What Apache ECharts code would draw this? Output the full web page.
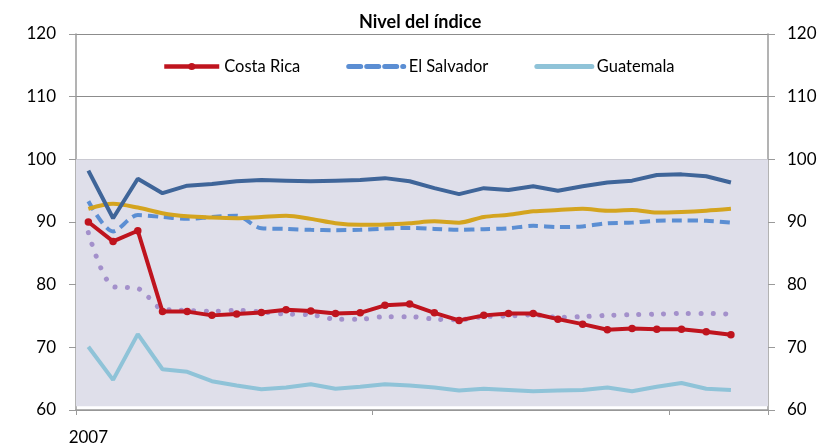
<!DOCTYPE html>
<html>
<head>
<meta charset="utf-8">
<script src="https://cdn.jsdelivr.net/npm/echarts@6/dist/echarts.min.js"></script>
<style>html,body{margin:0;padding:0;background:#fff}#c{width:829px;height:446px}</style>
</head>
<body>
<div id="c"></div>
<script>
// ---- data ----
var months = ['ene-07','feb-07','mar-07','abr-07','may-07','jun-07','jul-07','ago-07','sep-07','oct-07','nov-07','dic-07',
              'ene-08','feb-08','mar-08','abr-08','may-08','jun-08','jul-08','ago-08','sep-08','oct-08','nov-08','dic-08',
              'ene-09','feb-09','mar-09','abr-09'];
var xTickLabels = {0: '2007'};
var yTicks = [60, 70, 80, 90, 100, 110, 120];
var titleText = 'Nivel del índice';

var costaRica  = [90.0, 86.9, 88.6, 75.7, 75.7, 75.1, 75.3, 75.55, 76.0, 75.8, 75.4, 75.5, 76.7, 76.9, 75.5, 74.3, 75.1, 75.4, 75.4, 74.5, 73.7, 72.8, 73.0, 72.9, 72.9, 72.5, 72.0];
var elSalvador = [93.3, 88.5, 91.1, 90.8, 90.5, 90.8, 91.0, 89.0, 88.9, 88.75, 88.7, 88.75, 88.95, 89.05, 88.9, 88.75, 88.85, 89.0, 89.4, 89.2, 89.3, 89.8, 89.9, 90.2, 90.25, 90.2, 89.9];
var guatemala  = [70.1, 64.8, 72.1, 66.5, 66.1, 64.6, 63.9, 63.3, 63.6, 64.1, 63.4, 63.7, 64.1, 63.9, 63.6, 63.1, 63.4, 63.2, 63.0, 63.1, 63.2, 63.6, 63.0, 63.7, 64.3, 63.4, 63.2];
var serieAzulOscuro = [98.2, 90.6, 96.9, 94.6, 95.8, 96.05, 96.5, 96.7, 96.6, 96.5, 96.6, 96.7, 97.0, 96.5, 95.4, 94.45, 95.4, 95.1, 95.7, 95.0, 95.7, 96.3, 96.6, 97.5, 97.6, 97.3, 96.3];
var serieDorada = [92.1, 92.9, 92.3, 91.4, 90.9, 90.7, 90.6, 90.8, 91.0, 90.5, 89.8, 89.55, 89.6, 89.8, 90.1, 89.9, 90.8, 91.15, 91.7, 91.9, 92.1, 91.8, 91.9, 91.5, 91.6, 91.8, 92.1];
var seriePunteada = [88.3, 79.7, 79.4, 76.1, 75.9, 75.75, 75.9, 75.65, 75.3, 75.2, 74.5, 74.5, 74.9, 74.9, 74.5, 74.4, 74.9, 75.0, 75.2, 74.8, 74.9, 75.1, 75.2, 75.3, 75.4, 75.4, 75.3];
var shadeRange = [60.6, 100];

var FONT = 'Lato, "Open Sans", sans-serif';
var chart = echarts.init(document.getElementById('c'), null, {renderer: 'canvas'});

function yAxisCfg(pos) {
  return {
    type: 'value', position: pos, min: 60, max: 120, interval: 10,
    axisLine: {show: true, lineStyle: {color: '#9a9a9a', width: 1.5}},
    axisTick: {show: true, inside: false, length: 7, lineStyle: {color: '#9a9a9a', width: 1}},
    axisLabel: {color: '#000', fontSize: 17, fontFamily: FONT, margin: pos === 'left' ? 20 : 19},
    splitLine: {show: pos === 'left', lineStyle: {color: '#8c8c8c', width: 1}}
  };
}

chart.setOption({
  animation: false,
  backgroundColor: '#fff',
  title: {
    text: titleText, left: 354, top: 8,
    textStyle: {fontSize: 18, fontWeight: 'bold', fontFamily: FONT, color: '#000'}
  },
  legend: {
    data: [
      {name: 'Costa Rica', lineStyle: {width: 4.5}},
      {name: 'El Salvador', itemStyle: {opacity: 0}, lineStyle: {width: 5, type: [12, 6], cap: 'round'}},
      {name: 'Guatemala', itemStyle: {opacity: 0}, lineStyle: {width: 5, cap: 'round'}}
    ],
    left: 157, top: 53, itemWidth: 55, itemHeight: 9, itemGap: 46,
    textStyle: {fontSize: 16.5, fontFamily: FONT, color: '#000'}
  },
  grid: {left: 76, right: 61, top: 34, bottom: 36},
  xAxis: {
    type: 'category', data: months, boundaryGap: true,
    axisLine: {show: true, lineStyle: {color: '#9a9a9a', width: 1.5}},
    axisTick: {show: true, length: 5, interval: function (i) { return i % 12 === 0; }, lineStyle: {color: '#9a9a9a'}},
    axisLabel: {
      interval: 0, color: '#000', fontSize: 17, fontFamily: FONT, margin: 19,
      formatter: function (v, i) { return xTickLabels[i] || ''; }
    },
    splitLine: {show: false}
  },
  yAxis: [yAxisCfg('left'), yAxisCfg('right')],
  series: [
    {
      name: 'Sombra', type: 'line', data: [], silent: true,
      markArea: {silent: true, itemStyle: {color: '#dfdfea'}, data: [[{yAxis: shadeRange[0]}, {yAxis: shadeRange[1]}]]}
    },
    {
      name: 'El Salvador', type: 'line', data: elSalvador, symbol: 'none', smooth: 0.3, z: 3,
      lineStyle: {color: '#5b8ed3', width: 4, type: [10, 6]}, itemStyle: {color: '#5b8ed3'}
    },
    {
      name: 'Serie 5', type: 'line', data: serieDorada, symbol: 'none', smooth: 0.3, z: 3,
      lineStyle: {color: '#d4a41f', width: 4}, itemStyle: {color: '#d4a41f'}
    },
    {
      name: 'Serie 4', type: 'line', data: serieAzulOscuro, symbol: 'none', z: 3,
      lineStyle: {color: '#3f6599', width: 4}, itemStyle: {color: '#3f6599'}
    },
    {
      name: 'Guatemala', type: 'line', data: guatemala, symbol: 'none', z: 3,
      lineStyle: {color: '#8fc3d8', width: 4}, itemStyle: {color: '#8fc3d8'}
    },
    {
      name: 'Serie 6', type: 'line', data: seriePunteada, symbol: 'none', smooth: 0.3, z: 3,
      lineStyle: {color: '#a390cb', width: 5, type: [0.1, 12.3], cap: 'round'}, itemStyle: {color: '#a390cb'}
    },
    {
      name: 'Costa Rica', type: 'line', data: costaRica, symbol: 'circle', symbolSize: 7.5, z: 4,
      lineStyle: {color: '#bf141e', width: 4}, itemStyle: {color: '#bf141e'}
    }
  ]
});
</script>
</body>
</html>
